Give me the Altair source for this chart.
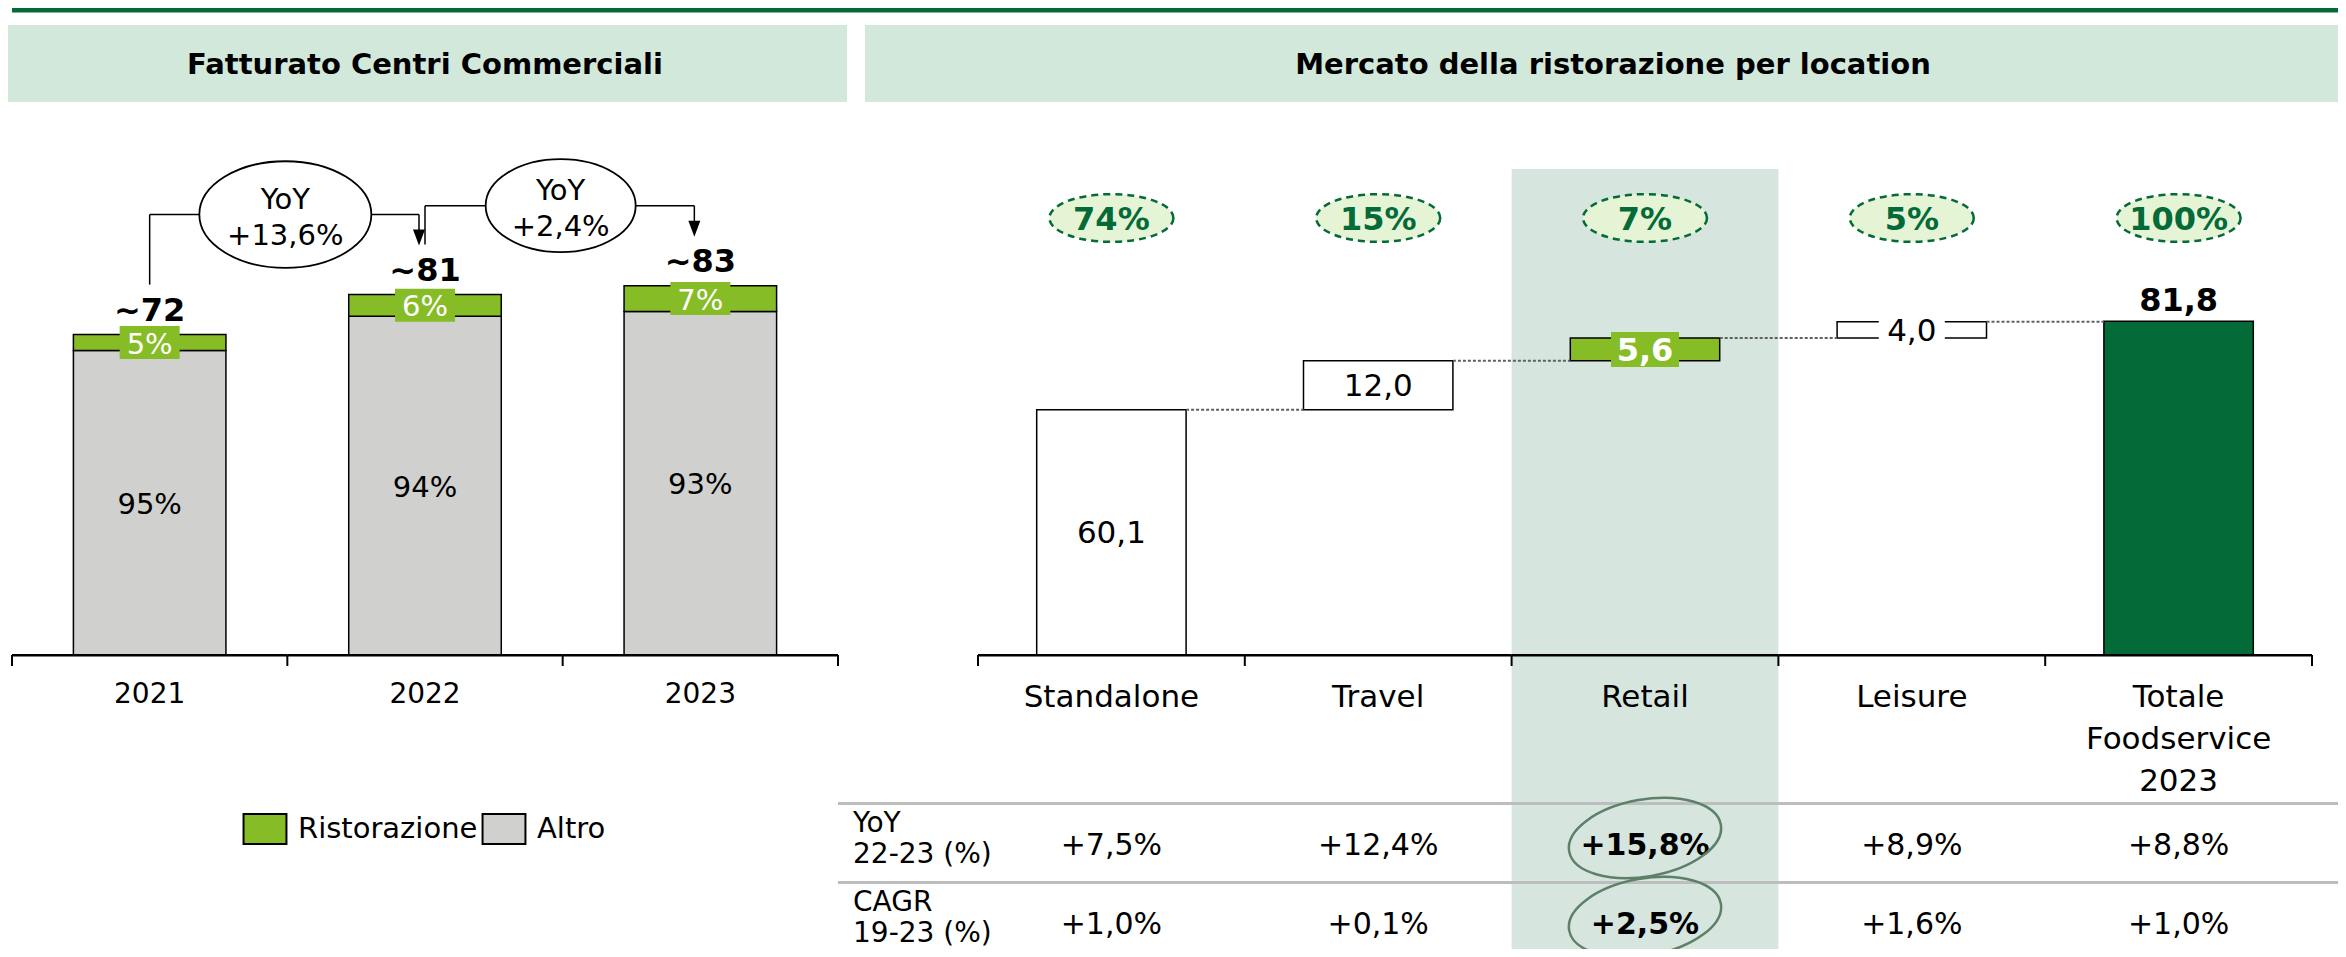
import altair as alt
import pandas as pd

# ---------------- data ----------------
panel_titles = ['Fatturato Centri Commerciali', 'Mercato della ristorazione per location']

years = ['2021', '2022', '2023']
year_totals = [72, 81, 83]
year_total_labels = ['~72', '~81', '~83']
ristorazione_pct = [5, 6, 7]
altro_pct = [95, 94, 93]
series_names = ['Ristorazione', 'Altro']

yoy_from = ['2021', '2022']
yoy_to = ['2022', '2023']
yoy_text = ['+13,6%', '+2,4%']

locations = ['Standalone', 'Travel', 'Retail', 'Leisure', 'Totale']
location_labels = ['Standalone', 'Travel', 'Retail', 'Leisure', 'Totale\nFoodservice\n2023']
location_values = [60.1, 12.0, 5.6, 4.0, 81.8]
location_shares = ['74%', '15%', '7%', '5%', '100%']
highlight_location = 'Retail'
total_location = 'Totale'

table_rows = ['YoY\n22-23 (%)', 'CAGR\n19-23 (%)']
yoy_22_23 = ['+7,5%', '+12,4%', '+15,8%', '+8,9%', '+8,8%']
cagr_19_23 = ['+1,0%', '+0,1%', '+2,5%', '+1,6%', '+1,0%']

# ---------------- style ----------------
W, H = 2330, 941
FONT = 'DejaVu Sans'
GREEN = '#86BC25'
DARK = '#046A38'
GREY = '#D0D0CE'
HEAD_BG = '#D2E8DB'
HIGHLIGHT_BG = '#D6E6DF'
SHARE_BG = '#E6F4D6'
TABLE_LINE = '#BDBDBD'
CIRCLE = '#5E7F68'
BASE = 647


def ellipse_path(ry, rx=1.0):
    k = 0.5523
    return (f"M{rx},0 C{rx},{k*ry:.4f} {k*rx:.4f},{ry} 0,{ry} "
            f"C{-k*rx:.4f},{ry} {-rx},{k*ry:.4f} {-rx},0 "
            f"C{-rx},{-k*ry:.4f} {-k*rx:.4f},{-ry} 0,{-ry} "
            f"C{k*rx:.4f},{-ry} {rx},{-k*ry:.4f} {rx},0 Z")


def rect_path(hy, hx=1.0):
    return f"M{-hx},{-hy}H{hx}V{hy}H{-hx}Z"


# ---------------- tables ----------------
stack_rows = []
for yr, tot, r, a in zip(years, year_totals, ristorazione_pct, altro_pct):
    a_top = tot * a / 100
    stack_rows.append(dict(year=yr, series='Altro', y0=0.0, y1=a_top, pct=f'{a}%'))
    stack_rows.append(dict(year=yr, series='Ristorazione', y0=a_top, y1=float(tot), pct=f'{r}%'))
stack = pd.DataFrame(stack_rows)
stack['mid'] = (stack.y0 + stack.y1) / 2

left_tot = pd.DataFrame({'year': years, 'total': year_totals, 'label': year_total_labels})
tot_map = dict(zip(years, year_totals))
yoy = pd.DataFrame({'from': yoy_from, 'to': yoy_to, 'text': yoy_text})
yoy['from_total'] = yoy['from'].map(tot_map)
yoy['to_total'] = yoy['to'].map(tot_map)

starts, ends, cum = [], [], 0.0
for loc, v in zip(locations, location_values):
    if loc == total_location:
        starts.append(0.0)
        ends.append(v)
    else:
        starts.append(cum)
        cum += v
        ends.append(cum)
wf = pd.DataFrame({'loc': locations, 'label': location_labels, 'value': location_values,
                   'share': location_shares, 'start': starts, 'end': ends})
wf['mid'] = (wf.start + wf.end) / 2
wf['vlabel'] = [f'{v:.1f}'.replace('.', ',') for v in location_values]
wf['next'] = locations[1:] + [None]
connectors = wf[wf['next'].notna()]

table = pd.DataFrame(
    [dict(row=table_rows[0], loc=l, text=t) for l, t in zip(locations, yoy_22_23)] +
    [dict(row=table_rows[1], loc=l, text=t) for l, t in zip(locations, cagr_19_23)])
rows_df = pd.DataFrame({'row': table_rows})
one = pd.DataFrame({'k': [0]})
titles_df = pd.DataFrame({'title': panel_titles})

# ---------------- scales ----------------
lx = alt.Scale(type='band', domain=years, range=[4, 830], paddingInner=0.446, paddingOuter=0.223)
lx0 = alt.Scale(type='band', domain=years, range=[4, 830], paddingInner=0, paddingOuter=0)
ly = alt.Scale(domain=[0, 100], range=[BASE, BASE - 445], nice=False, zero=True)
rx = alt.Scale(type='band', domain=locations, range=[970, 2304], paddingInner=0.44, paddingOuter=0.22)
rx0 = alt.Scale(type='band', domain=locations, range=[970, 2304], paddingInner=0, paddingOuter=0)
ry = alt.Scale(domain=[0, 100], range=[BASE, BASE - 408], nice=False, zero=True)
rowy = alt.Scale(type='point', domain=table_rows, range=[838, 917], padding=0)


def XL(field='year:N', scale=lx, **kw):
    return alt.X(field, scale=scale, axis=None, **kw)


def XR(field='loc:N', scale=rx, **kw):
    return alt.X(field, scale=scale, axis=None, **kw)


def YL(field):
    return alt.Y(field, scale=ly, axis=None)


def YR(field):
    return alt.Y(field, scale=ry, axis=None)


def text(**kw):
    base = dict(font=FONT, fontSize=29, color='black', align='center', baseline='middle')
    base.update(kw)
    return base


layers = []

# top rule and headers
layers.append(alt.Chart(one).mark_rect(color=DARK).encode(
    x=alt.value(4), x2=alt.value(W), y=alt.value(-1), y2=alt.value(4.5)))
layers.append(alt.Chart(one).mark_rect(color=HEAD_BG).encode(
    x=alt.value(0), x2=alt.value(839), y=alt.value(17), y2=alt.value(94)))
layers.append(alt.Chart(one).mark_rect(color=HEAD_BG).encode(
    x=alt.value(857), x2=alt.value(W), y=alt.value(17), y2=alt.value(94)))
layers.append(alt.Chart(titles_df).transform_filter(alt.datum.title == panel_titles[0]).mark_text(
    **text(fontSize=29, fontWeight='bold')).encode(
    x=alt.value(417), y=alt.value(57), text='title:N'))
layers.append(alt.Chart(titles_df).transform_filter(alt.datum.title == panel_titles[1]).mark_text(
    **text(fontSize=29, fontWeight='bold')).encode(
    x=alt.value(1605), y=alt.value(57), text='title:N'))

# ---------------- left panel ----------------
layers.append(alt.Chart(stack).mark_bar(stroke='black', strokeWidth=1.5).encode(
    x=XL(), y=YL('y0:Q'), y2='y1:Q',
    color=alt.Color('series:N', scale=alt.Scale(domain=series_names, range=[GREEN, GREY]),
                    legend=alt.Legend(title=None, orient='none', legendX=241, legendY=805,
                                      direction='horizontal', symbolType=rect_path(1.0, 1.43),
                                      symbolSize=900, symbolStrokeColor='black', symbolStrokeWidth=2,
                                      symbolOpacity=1, labelFont=FONT, labelFontSize=29,
                                      labelColor='black', labelOffset=17, columnPadding=0,
                                      labelLimit=600, padding=0))))
# green label boxes
layers.append(alt.Chart(stack).transform_filter(alt.datum.series == 'Ristorazione').mark_point(
    shape=rect_path(0.55), size=3600, filled=True, fill=GREEN, strokeWidth=0, opacity=1).encode(
    x=XL(), y=YL('mid:Q')))
layers.append(alt.Chart(stack).transform_filter(alt.datum.series == 'Ristorazione').mark_text(
    **text(color='white', dy=2)).encode(x=XL(), y=YL('mid:Q'), text='pct:N'))
layers.append(alt.Chart(stack).transform_filter(alt.datum.series == 'Altro').mark_text(
    **text(dy=2)).encode(x=XL(), y=YL('mid:Q'), text='pct:N'))
layers.append(alt.Chart(left_tot).mark_text(**text(fontSize=32, fontWeight='bold', dy=-24)).encode(
    x=XL(), y=YL('total:Q'), text='label:N'))

# YoY callouts
layers.append(alt.Chart(yoy).mark_rule(color='black', strokeWidth=1.5, yOffset=-50, y2Offset=-80).encode(
    x=XL('from:N'), y=YL('from_total:Q'), y2='to_total:Q'))
layers.append(alt.Chart(yoy).mark_rule(color='black', strokeWidth=1.5, yOffset=-80, x2Offset=-6).encode(
    x=XL('from:N', bandPosition=0.5), x2=alt.X2('to:N', bandPosition=0.5), y=YL('to_total:Q')))
layers.append(alt.Chart(yoy).mark_rule(color='black', strokeWidth=1.5, yOffset=-80, y2Offset=-60,
                                       xOffset=-6).encode(
    x=XL('to:N'), y=YL('to_total:Q'), y2='to_total:Q'))
layers.append(alt.Chart(yoy).mark_point(shape='M-0.75,-1L0.75,-1L0,1Z', size=256, filled=True,
                                        fill='black', strokeWidth=0, opacity=1, yOffset=-57,
                                        xOffset=-6).encode(
    x=XL('to:N'), y=YL('to_total:Q')))
layers.append(alt.Chart(yoy).transform_calculate(esize='pow(40 + 22 * length(datum.text), 2)').mark_point(
    shape=ellipse_path(0.62), filled=True, fill='white', stroke='black', strokeWidth=1.8, opacity=1,
    yOffset=-80, xOffset=-2).encode(
    x=XL('to:N', scale=lx0, bandPosition=0), y=YL('to_total:Q'),
    size=alt.Size('esize:Q', scale=None, legend=None)))
layers.append(alt.Chart(yoy).transform_calculate(t0='"YoY"').mark_text(**text(yOffset=-95, xOffset=-2)).encode(
    x=XL('to:N', scale=lx0, bandPosition=0), y=YL('to_total:Q'), text='t0:N'))
layers.append(alt.Chart(yoy).mark_text(**text(yOffset=-59, xOffset=-2)).encode(
    x=XL('to:N', scale=lx0, bandPosition=0), y=YL('to_total:Q'), text='text:N'))

# left axis
layers.append(alt.Chart(left_tot).mark_rect(color='black').encode(
    x=XL(scale=lx0), y=alt.value(BASE - 1), y2=alt.value(BASE + 1.5)))
layers.append(alt.Chart(left_tot).mark_rule(color='black', strokeWidth=2).encode(
    x=XL(scale=lx0, bandPosition=0), y=alt.value(BASE), y2=alt.value(BASE + 11)))
layers.append(alt.Chart(left_tot).transform_filter(alt.datum.year == years[-1]).mark_rule(
    color='black', strokeWidth=2).encode(
    x=XL(scale=lx0, bandPosition=1), y=alt.value(BASE), y2=alt.value(BASE + 11)))
layers.append(alt.Chart(left_tot).mark_text(**text(fontSize=28)).encode(
    x=XL(), y=alt.value(687), text='year:N'))

# ---------------- right panel ----------------
layers.append(alt.Chart(wf).transform_filter(alt.datum.loc == highlight_location).mark_rect(
    color=HIGHLIGHT_BG).encode(x=XR(scale=rx0), y=alt.value(161), y2=alt.value(H)))
layers.append(alt.Chart(rows_df).mark_rule(color=TABLE_LINE, strokeWidth=3, yOffset=-42.5).encode(
    x=alt.value(830), x2=alt.value(W), y=alt.Y('row:N', scale=rowy, axis=None)))

layers.append(alt.Chart(wf).mark_bar(stroke='black', strokeWidth=1.5, opacity=1).encode(
    x=XR(), y=YR('start:Q'), y2='end:Q',
    color=alt.Color('loc:N', scale=alt.Scale(domain=locations,
                                             range=['white', 'white', GREEN, 'white', DARK]),
                    legend=None)))
layers.append(alt.Chart(connectors).mark_rule(color='#606060', strokeWidth=2, strokeDash=[3, 2]).encode(
    x=XR(bandPosition=1), x2=alt.X2('next:N', bandPosition=0), y=YR('end:Q')))

# value labels
layers.append(alt.Chart(wf).transform_filter(
    (alt.datum.loc == 'Standalone') | (alt.datum.loc == 'Travel')).mark_text(
    **text(fontSize=31, dy=2)).encode(x=XR(), y=YR('mid:Q'), text='vlabel:N'))
layers.append(alt.Chart(wf).transform_filter(alt.datum.loc == highlight_location).mark_point(
    shape=rect_path(0.515), size=4624, filled=True, fill=GREEN, strokeWidth=0, opacity=1).encode(
    x=XR(), y=YR('mid:Q')))
layers.append(alt.Chart(wf).transform_filter(alt.datum.loc == highlight_location).mark_text(
    **text(fontSize=32, fontWeight='bold', color='white', dy=2)).encode(
    x=XR(), y=YR('mid:Q'), text='vlabel:N'))
layers.append(alt.Chart(wf).transform_filter(alt.datum.loc == 'Leisure').mark_point(
    shape=rect_path(0.6), size=4356, filled=True, fill='white', strokeWidth=0, opacity=1).encode(
    x=XR(), y=YR('mid:Q')))
layers.append(alt.Chart(wf).transform_filter(alt.datum.loc == 'Leisure').mark_text(
    **text(fontSize=31, dy=2)).encode(x=XR(), y=YR('mid:Q'), text='vlabel:N'))
layers.append(alt.Chart(wf).transform_filter(alt.datum.loc == total_location).mark_text(
    **text(fontSize=32, fontWeight='bold', dy=-20)).encode(x=XR(), y=YR('end:Q'), text='vlabel:N'))

# share ellipses
layers.append(alt.Chart(wf).mark_point(
    shape=ellipse_path(0.385), size=124 ** 2, filled=True, fill=SHARE_BG, stroke=DARK,
    strokeWidth=2.5, strokeDash=[7, 5], opacity=1).encode(x=XR(), y=alt.value(210)))
layers.append(alt.Chart(wf).mark_text(**text(fontSize=32, fontWeight='bold', color=DARK)).encode(
    x=XR(), y=alt.value(212), text='share:N'))

# right axis
layers.append(alt.Chart(wf).mark_rect(color='black').encode(
    x=XR(scale=rx0), y=alt.value(BASE - 1), y2=alt.value(BASE + 1.5)))
layers.append(alt.Chart(wf).mark_rule(color='black', strokeWidth=2).encode(
    x=XR(scale=rx0, bandPosition=0), y=alt.value(BASE), y2=alt.value(BASE + 11)))
layers.append(alt.Chart(wf).transform_filter(alt.datum.loc == total_location).mark_rule(
    color='black', strokeWidth=2).encode(
    x=XR(scale=rx0, bandPosition=1), y=alt.value(BASE), y2=alt.value(BASE + 11)))
layers.append(alt.Chart(wf).mark_text(**text(fontSize=31, baseline='top', lineBreak='\n',
                                             lineHeight=42)).encode(
    x=XR(), y=alt.value(675), text='label:N'))

# table
layers.append(alt.Chart(rows_df).mark_text(**text(fontSize=28, align='left', baseline='top',
                                                  lineBreak='\n', lineHeight=31, dy=-36)).encode(
    x=alt.value(845), y=alt.Y('row:N', scale=rowy, axis=None), text='row:N'))
layers.append(alt.Chart(table).transform_filter(alt.datum.loc != highlight_location).mark_text(
    **text(fontSize=30)).encode(
    x=XR(), y=alt.Y('row:N', scale=rowy, axis=None), text='text:N'))
layers.append(alt.Chart(table).transform_filter(alt.datum.loc == highlight_location).mark_text(
    **text(fontSize=30, fontWeight='bold')).encode(
    x=XR(), y=alt.Y('row:N', scale=rowy, axis=None), text='text:N'))
layers.append(alt.Chart(table).transform_filter(alt.datum.loc == highlight_location).mark_point(
    shape=ellipse_path(0.5), size=154 ** 2, filled=False, stroke=CIRCLE, strokeWidth=2.5,
    opacity=1, angle=350, yOffset=-8).encode(
    x=XR(), y=alt.Y('row:N', scale=rowy, axis=None)))

chart = alt.layer(*layers).resolve_scale(
    x='independent', y='independent', color='independent', size='independent'
).properties(
    width=W, height=H, padding=0, autosize=alt.AutoSizeParams(type='none')
).configure_view(strokeWidth=0)

chart.save('out.html', embed_options={'renderer': 'svg', 'actions': False})
